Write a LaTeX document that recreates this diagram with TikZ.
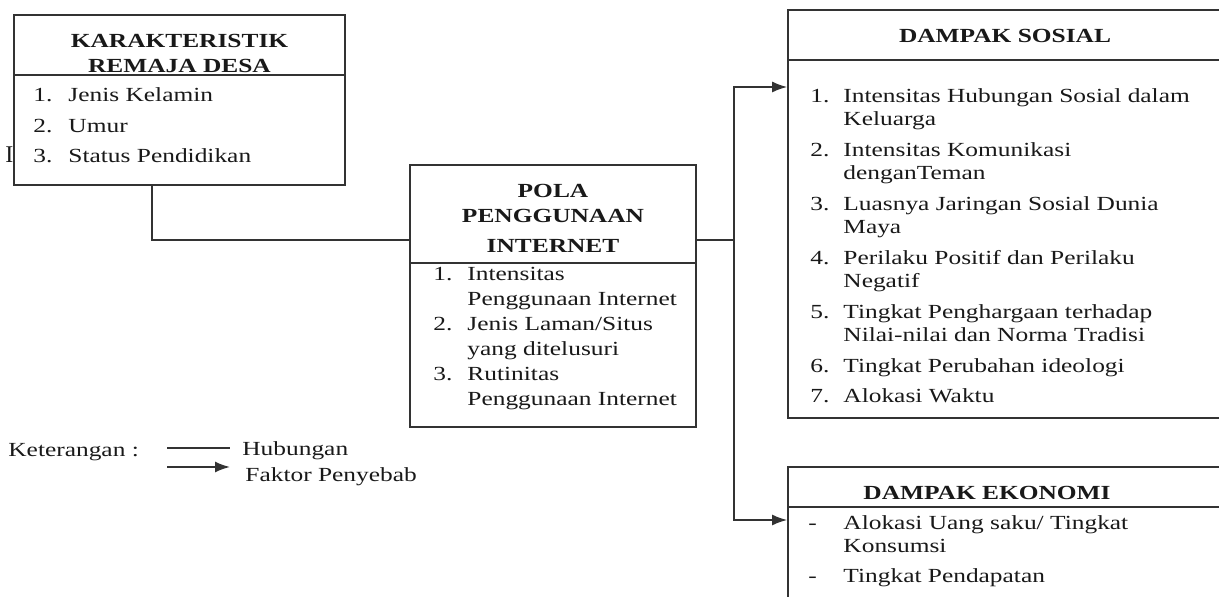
\documentclass[tikz,border=0pt]{standalone}
\usepackage{fontspec}
\setmainfont{Liberation Serif}
\usepackage{graphicx}
\usetikzlibrary{arrows.meta,fit}

\newcommand\wide[1]{\scalebox{1.27}[1]{#1}}

\begin{document}
\begin{tikzpicture}[x=0.5pt,y=-0.5pt,
  box/.style={draw=black!80, line width=0.85pt, fill=white, inner sep=0pt},
  txt/.style={inner sep=0pt, text=black!90, font=\fontsize{10}{11.5}\selectfont},
  head/.style={txt, font=\fontsize{10}{11.5}\selectfont\bfseries},
  link/.style={draw=black!80, line width=0.85pt},
  cause/.style={link, -{Latex[length=7.5pt,width=5.5pt]}}]
\useasboundingbox (0,0) rectangle (1219,597);

\node[txt, anchor=base west, font=\fontsize{12}{12}\selectfont] (stray) at (5,163) {I};

% boxes
\node[box, fit={(14,15) (345,185)}] (kar) {};
\node[box, fit={(410,165) (696,427)}] (pola) {};
\node[box, fit={(788,10) (1230,418)}] (sosial) {};
\node[box, fit={(788,467) (1230,610)}] (ekonomi) {};
\draw[link] (kar.west |- 0,75) -- (kar.east |- 0,75);
\draw[link] (pola.west |- 0,263) -- (pola.east |- 0,263);
\draw[link] (sosial.west |- 0,60) -- (sosial.east |- 0,60);
\draw[link] (ekonomi.west |- 0,507) -- (ekonomi.east |- 0,507);

% titles
\node[head, anchor=base] (karT) at (179.5,48) {\wide{\begin{tabular}[t]{@{}c@{}}KARAKTERISTIK\\[1pt] REMAJA DESA\end{tabular}}};
\node[head, anchor=base] (polaT) at (553,198) {\wide{\begin{tabular}[t]{@{}c@{}}POLA\\[1pt] PENGGUNAAN\\[3.5pt] INTERNET\end{tabular}}};
\node[head, anchor=base] (sosialT) at (1005,43) {\wide{DAMPAK SOSIAL}};
\node[head, anchor=base] (ekonomiT) at (987,500) {\wide{DAMPAK EKONOMI}};

% lists
\node[txt, anchor=base west] (karL) at (33,102) {\wide{\begin{tabular}[t]{@{}p{13.8pt}@{}l@{}}
1. & Jenis Kelamin\\[3.75pt]
2. & Umur\\[3.75pt]
3. & Status Pendidikan
\end{tabular}}};
\node[txt, anchor=base west] (polaL) at (433,281) {\wide{\begin{tabular}[t]{@{}p{13.4pt}@{}l@{}}
1. & Intensitas\\[1pt]
   & Penggunaan Internet\\[1pt]
2. & Jenis Laman/Situs\\[1pt]
   & yang ditelusuri\\[1pt]
3. & Rutinitas\\[1pt]
   & Penggunaan Internet
\end{tabular}}};
\node[txt, anchor=base west] (sosialL) at (810,103) {\wide{\begin{tabular}[t]{@{}p{13pt}@{}l@{}}
1. & Intensitas Hubungan Sosial dalam\\
   & Keluarga\\[4pt]
2. & Intensitas Komunikasi\\
   & denganTeman\\[4pt]
3. & Luasnya Jaringan Sosial Dunia\\
   & Maya\\[4pt]
4. & Perilaku Positif dan Perilaku\\
   & Negatif\\[4pt]
5. & Tingkat Penghargaan terhadap\\
   & Nilai-nilai dan Norma Tradisi\\[4pt]
6. & Tingkat Perubahan ideologi\\[3.5pt]
7. & Alokasi Waktu
\end{tabular}}};
\node[txt, anchor=base west] (ekonomiL) at (808,530) {\wide{\begin{tabular}[t]{@{}p{13.8pt}@{}l@{}}
- & Alokasi Uang saku/ Tingkat\\
  & Konsumsi\\[3.5pt]
- & Tingkat Pendapatan
\end{tabular}}};

% connectors
\coordinate (bus) at (734,240);
\draw[link] (kar.south -| 152,0) |- (pola.west |- bus);
\draw[link] (pola.east |- bus) -- (bus);
\draw[cause] (bus) |- (sosial.west |- 0,87);
\draw[cause] (bus) |- (ekonomi.west |- 0,520);

% legend
\node[txt, anchor=base west] (ket) at (8,457) {\wide{Keterangan :}};
\coordinate (hubA) at (167,448);
\coordinate (hubB) at (230,448);
\draw[link] (hubA) -- (hubB);
\node[txt, anchor=base west] (hub) at (242,456) {\wide{Hubungan}};
\coordinate (sebA) at (167,467);
\coordinate (sebB) at (230,467);
\draw[cause] (sebA) -- (sebB);
\node[txt, anchor=base west] (seb) at (245,482) {\wide{Faktor Penyebab}};
\end{tikzpicture}
\end{document}
